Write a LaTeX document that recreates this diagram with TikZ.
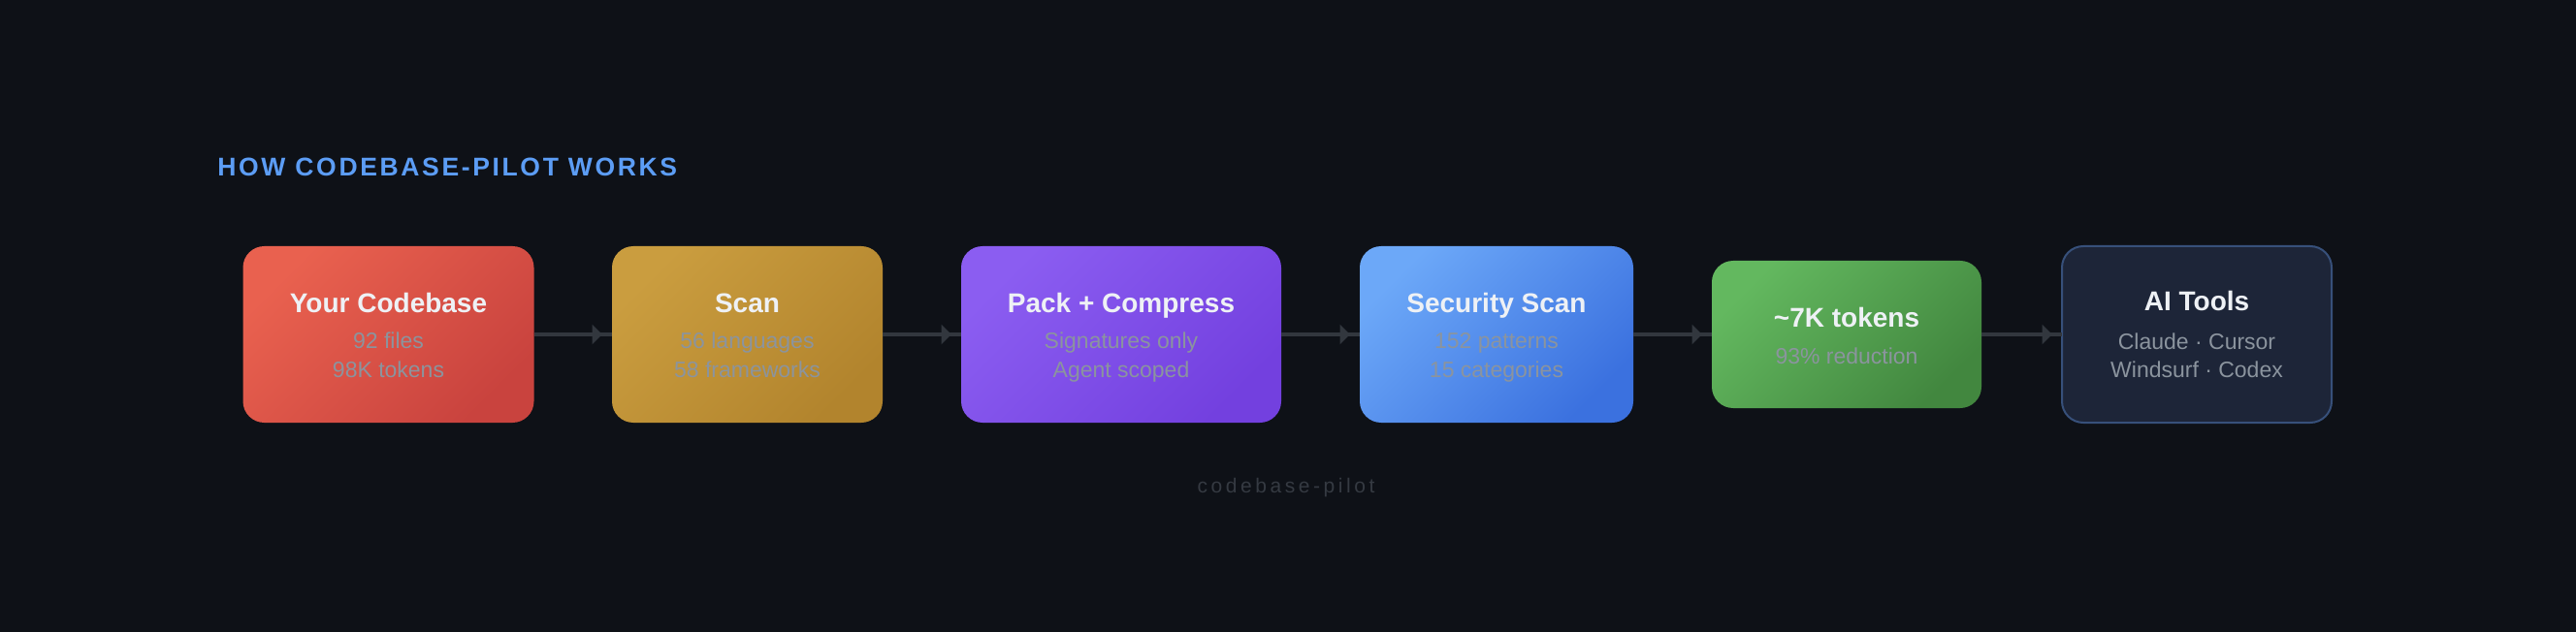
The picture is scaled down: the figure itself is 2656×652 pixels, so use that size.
\documentclass[tikz,border=0pt]{standalone}
\usepackage{fontspec}
\setmainfont{Liberation Sans}
\newfontfamily\headf[LetterSpace=10]{Liberation Sans Bold}
\newfontfamily\footf[LetterSpace=17]{Liberation Sans}
\usetikzlibrary{arrows.meta}
\definecolor{bgc}{HTML}{0E1117}
\definecolor{ttl}{HTML}{EEF1F5}
\definecolor{subc}{HTML}{8B949E}
\definecolor{arrc}{HTML}{32373E}
\definecolor{headc}{HTML}{5C9DF5}
\definecolor{footc}{HTML}{353A42}
\definecolor{aA}{HTML}{E9614F}\definecolor{aB}{HTML}{C9433E}
\definecolor{bA}{HTML}{CA9D3F}\definecolor{bB}{HTML}{B2842D}
\definecolor{cA}{HTML}{8B5DF1}\definecolor{cB}{HTML}{7340DF}
\definecolor{dA}{HTML}{6CA8F8}\definecolor{dB}{HTML}{3B71DF}
\definecolor{eA}{HTML}{63B85F}\definecolor{eB}{HTML}{42873F}
\definecolor{fFill}{HTML}{1D2538}\definecolor{fLine}{HTML}{37507A}
\tikzset{
  box/.style={rounded corners=11pt, inner sep=0pt, outer sep=0pt, minimum height=91pt},
  grad/.style 2 args={top color=#1, bottom color=#2, shading angle=45},
  lbl/.style={anchor=base, inner sep=0pt, text=ttl, font=\bfseries\fontsize{14}{16}\selectfont},
  sub/.style={anchor=base, inner sep=0pt, text=subc, font=\fontsize{11.5}{13}\selectfont},
  conn/.style={draw=arrc, line width=2pt},
  tip/.style={conn, -{Triangle[length=5.25pt,width=10pt]}, shorten >=5pt}
}
\begin{document}
\begin{tikzpicture}[x=0.5pt,y=-0.5pt]
\fill[bgc] (0,0) rectangle (2656,652);
\useasboundingbox (0,0) rectangle (2656,652);
% heading
\node[anchor=base west, inner sep=0pt, text=headc, font=\headf\fontsize{13.25}{15}\selectfont] (head) at (224,182) {HOW CODEBASE-PILOT WORKS};
% boxes
\node[box, grad={aA}{aB}, minimum width=150pt] (b1) at (400.5,345) {};
\node[box, grad={bA}{bB}, minimum width=139.5pt] (b2) at (770.5,345) {};
\node[box, grad={cA}{cB}, minimum width=165pt] (b3) at (1156,345) {};
\node[box, grad={dA}{dB}, minimum width=141pt] (b4) at (1543,345) {};
\node[box, grad={eA}{eB}, minimum width=139pt, minimum height=76pt] (b5) at (1904,345) {};
\node[box, fill=fFill, draw=fLine, line width=1pt, minimum width=139pt, minimum height=91pt] (b6) at (2265,345) {};
% connectors
\foreach \a/\b in {b1/b2,b2/b3,b3/b4,b4/b5,b5/b6}{
  \draw[conn] (\a.east) -- (\b.west);
  \draw[tip] (\a.east) -- (\b.west);
}
% texts
\node[lbl] (t1) at (400.5,322) {Your Codebase};
\node[sub] (s1a) at (400.5,359) {92 files};
\node[sub] (s1b) at (400.5,389) {98K tokens};
\node[lbl] (t2) at (770.5,322) {Scan};
\node[sub] (s2a) at (770.5,359) {56 languages};
\node[sub] (s2b) at (770.5,389) {58 frameworks};
\node[lbl] (t3) at (1156,322) {Pack + Compress};
\node[sub] (s3a) at (1156,359) {Signatures only};
\node[sub] (s3b) at (1156,389) {Agent scoped};
\node[lbl] (t4) at (1543,322) {Security Scan};
\node[sub] (s4a) at (1543,359) {152 patterns};
\node[sub] (s4b) at (1543,389) {15 categories};
\node[lbl] (t5) at (1904,337) {\textasciitilde7K tokens};
\node[sub] (s5a) at (1904,375) {93\% reduction};
\node[lbl] (t6) at (2265,321) {AI Tools};
\node[sub] (s6a) at (2265,360) {Claude · Cursor};
\node[sub] (s6b) at (2265,389) {Windsurf · Codex};
% footer
\node[anchor=base, inner sep=0pt, text=footc, font=\footf\fontsize{10.5}{12}\selectfont] (foot) at (1326,508) {codebase-pilot};
\end{tikzpicture}
\end{document}
